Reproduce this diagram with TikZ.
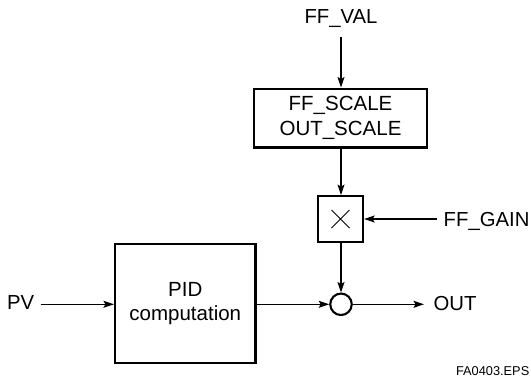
\documentclass[tikz,border=0pt]{standalone}
\usepackage{fontspec}
\setmainfont{Liberation Sans}
\usetikzlibrary{arrows.meta,calc}
\begin{document}
\begin{tikzpicture}[x=1pt,y=-1pt,
  blk/.style={draw,line width=2.3pt,inner sep=0pt,align=center,font=\fontsize{20.3}{24}\selectfont},
  lbl/.style={font=\fontsize{20.3}{24}\selectfont,inner sep=0pt},
  conn/.style={line width=1.2pt,-{Stealth[length=10.5pt,width=7pt,inset=2pt]}}]
\useasboundingbox (0,0) rectangle (531,378);
\node[lbl,anchor=base] (ffval) at (341,23.3) {FF\_VAL};
\node[blk,minimum width=172.7pt,minimum height=58.7pt,font=\fontsize{20.5}{25}\selectfont] (scale) at (340.5,118) {FF\_SCALE\\OUT\_SCALE};
\node[blk,minimum width=45pt,minimum height=45.5pt] (mul) at (340.5,219) {};
\draw[line width=0.9pt] ($(mul.center)+(-9,-9)$) -- ($(mul.center)+(9,9)$) ($(mul.center)+(-9,9)$) -- ($(mul.center)+(9,-9)$);
\node[lbl,anchor=base west] (ffgain) at (443.5,226.7) {FF\_GAIN};
\node[draw,circle,line width=2.1pt,minimum size=21.5pt,inner sep=0pt] (sum) at (341,304.3) {};
\node[blk,minimum width=140.4pt,minimum height=119pt,font=\fontsize{20.5}{23.5}\selectfont] (pid) at (185.3,303.4) {PID\\computation};
\node[lbl,anchor=base west] (pv) at (7,309.5) {PV};
\node[lbl,anchor=base west] (out) at (433.5,310) {OUT};
\node[anchor=base east,inner sep=0pt,font=\fontsize{12.8}{15}\selectfont] (eps) at (529.5,375) {FA0403.EPS};
\draw[conn] (341,36.7) coordinate (vtop) -- (vtop |- scale.north);
\draw[conn] (scale.south -| vtop) -- (mul.north -| vtop);
\draw[conn] (ffgain.west |- mul) ++(-7,0) coordinate (gstart) -- (mul.east);
\draw[conn] (mul.south -| vtop) -- (sum.north);
\draw[conn] (40.5,304.3) coordinate (pvstart) -- (pvstart -| pid.west);
\draw[conn] (pid.east |- sum) -- (sum.west);
\draw[conn] (sum.east) -- (424,304.3) coordinate (outend);
\end{tikzpicture}
\end{document}
